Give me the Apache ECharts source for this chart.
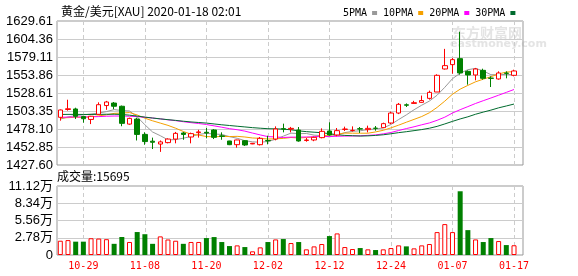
<!DOCTYPE html>
<html>
<head>
<meta charset="utf-8">
<script src="https://cdn.jsdelivr.net/npm/echarts@6/dist/echarts.min.js"></script>
<style>html,body{margin:0;padding:0;background:#fff;}#c{width:578px;height:276px;}</style>
</head>
<body>
<div id="c"></div>
<script>
var dates = ['10-24','10-25','10-28','10-29','10-30','10-31','11-01','11-04','11-05','11-06','11-07','11-08','11-11','11-12','11-13','11-14','11-15','11-18','11-19','11-20','11-21','11-22','11-25','11-26','11-27','11-28','11-29','12-02','12-03','12-04','12-05','12-06','12-09','12-10','12-11','12-12','12-13','12-16','12-17','12-18','12-19','12-20','12-23','12-24','12-26','12-27','12-30','12-31','01-02','01-03','01-06','01-07','01-08','01-09','01-10','01-13','01-14','01-15','01-16','01-17'];
var opens  = [1494.5,1505.5,1506.2,1495.5,1491.5,1498.7,1511,1514.5,1510,1485,1492,1470.5,1461,1457,1459,1464,1472.5,1466.9,1473,1473.5,1476.7,1468.5,1461.3,1456.1,1461.7,1457.2,1456.1,1462,1464,1478.5,1478,1476.7,1462,1462.7,1466,1475.3,1469.7,1477.5,1476,1478.5,1477.2,1479.3,1480,1486.5,1500.5,1512,1514,1515.5,1521.1,1530,1562.3,1568.4,1576.8,1559,1553.9,1560.4,1549.5,1548.3,1556.5,1553.4];
var closes = [1504.8,1506.5,1495.9,1492.5,1496,1512.2,1516,1510,1486,1493,1470.5,1460.5,1459.5,1460,1464,1472,1470.5,1471.6,1474,1472.5,1466.4,1467.8,1456.1,1462.7,1455.7,1458,1465,1461.5,1478.1,1478,1479,1461.3,1462.7,1466.4,1474.8,1469.7,1475.8,1478.1,1476.2,1478,1479,1479,1485.6,1500.5,1512.7,1511.5,1515,1518,1529.5,1553.4,1567,1575.4,1556.7,1553.9,1562.3,1549.2,1549.2,1556.7,1556.2,1559.5];
var lows   = [1489.8,1503.8,1492.1,1487,1485,1498,1505,1506,1482,1484,1462,1456,1450,1446,1458,1458,1463,1458,1466,1465,1464,1463,1455.5,1451.9,1454.3,1456.8,1455,1456.6,1462.2,1473.4,1473.4,1460.3,1460.3,1461,1465,1468.7,1468,1475.3,1474.4,1472.5,1473.4,1475.7,1479.5,1485,1499,1509,1513.6,1515,1519.3,1530,1561.5,1555.7,1554.3,1540.3,1546.4,1547.3,1537,1547.3,1549.2,1552];
var highs  = [1505.5,1519.2,1508,1496,1496.5,1515.5,1517.5,1516,1511,1494,1494,1473.5,1466,1462,1465,1474,1474,1473,1477,1479.5,1478,1473.4,1461.5,1463,1462.6,1458.5,1466.9,1468.7,1481.8,1485.6,1481,1480.9,1465.5,1467.3,1479,1487.5,1479.5,1481.4,1481.8,1480.9,1482.8,1482.3,1487,1502.5,1514.6,1514,1517.6,1525,1531.9,1554.8,1590.5,1577.7,1614.5,1560.4,1563.7,1562.7,1552,1559,1559,1561.3];
var ma5  = [1492,1495,1497,1498,1499.1,1500.5,1502.5,1505.3,1504,1503.4,1495.1,1484,1473.9,1468.7,1462.9,1463.2,1465.2,1467.6,1470.4,1472.1,1471,1470.5,1467.4,1465.1,1461.7,1460.1,1459.5,1460.6,1463.7,1468.1,1472.3,1471.6,1471.8,1469.5,1468.8,1467,1469.9,1473,1474.9,1475.6,1477.4,1478.1,1479.6,1484.4,1491.4,1497.9,1505.1,1511.5,1517.3,1525.5,1536.6,1548.7,1556.4,1561.3,1563.1,1559.5,1554.3,1554.3,1554.7,1554.2];
var ma10 = [1493.5,1494,1494.5,1494.5,1495,1496.5,1498,1500,1500.5,1501.2,1497.8,1493.3,1489.6,1486.4,1483.2,1479.2,1474.6,1470.8,1469.6,1467.5,1467.1,1467.8,1467.5,1467.8,1466.9,1465.5,1465,1464,1464.4,1464.9,1466.2,1465.5,1466.2,1466.6,1468.5,1469.7,1470.7,1472.4,1472.2,1472.2,1472.2,1474,1476.3,1479.7,1483.5,1487.6,1491.6,1495.6,1500.9,1508.4,1517.2,1526.9,1534,1539.3,1544.3,1548,1551.5,1555.3,1558,1558.6];
var ma20 = [1494.5,1494.8,1495,1495,1495.2,1495.5,1496,1496.3,1496.3,1496,1495.5,1494.5,1493.5,1492.3,1491,1489.8,1488.3,1487,1485.8,1484.4,1482.5,1480.6,1478.6,1477.1,1475.1,1472.4,1469.8,1467.4,1467,1466.2,1466.7,1466.7,1466.9,1467.2,1467.7,1467.6,1467.9,1468.2,1468.3,1468.6,1469.2,1469.8,1471.3,1473.2,1476,1478.7,1481.2,1484,1486.6,1490.3,1494.7,1500.5,1505.2,1509.5,1513.9,1517.8,1521.6,1525.5,1529.5,1533.5];
var ma30 = [1498.5,1498.6,1498.6,1498.5,1498.5,1498.6,1498.8,1498.8,1498.5,1497.5,1496.2,1494.8,1493.5,1492.3,1491.2,1490.2,1489,1488,1487.2,1486.4,1485.2,1484,1483,1482,1481,1480,1479.2,1478.5,1478.3,1477.9,1477,1475.5,1474.4,1473.6,1472.9,1471.5,1470.1,1469.1,1468.7,1468.2,1468.5,1469.1,1470,1471.4,1473,1474.3,1475.8,1477.3,1479.2,1481.8,1485.2,1488.8,1492.2,1495.2,1498.8,1501.8,1504.6,1507.8,1510.4,1513.1];
var volumes = [23000,24000,21500,21500,27000,26500,25500,18000,29000,21000,37000,33500,18000,30000,25000,23000,18000,21000,21000,27300,28900,20900,14400,15500,12800,5900,12300,20900,25100,25700,19300,20900,9100,13900,17700,30500,34800,12800,9600,11200,9100,8000,9100,11200,15500,13900,10700,15500,17700,36900,49800,36900,102700,40100,25100,20900,27300,22500,16000,15695];
var maNames = ['5PMA','10PMA','20PMA','30PMA'];
var priceMin = 1427.60, priceMax = 1629.61, priceStep = 25.25125;
var volMax = 111200, volStep = 27800;

var RED = '#ff0000', GREEN = '#008000';
var maColors = ['#999999','#f5a000','#ff00ff','#006b2e'];

var candleData = dates.map(function(d,i){ return [opens[i], closes[i], lows[i], highs[i]]; });
var volData = volumes.map(function(v,i){
  var up = closes[i] >= opens[i];
  return {value: v, itemStyle: up ? {color:'#ffffff', borderColor: RED, borderWidth:1} : {color: GREEN, borderColor: GREEN, borderWidth:0}};
});
var labelIdx = function(i){ return (i - 3) % 8 === 0; };

var chart = echarts.init(document.getElementById('c'), null, {renderer:'canvas'});
var L = 57, R = 523, DL = 60.3, DR = 514;
var maSeries = [ma5, ma10, ma20, ma30].map(function(arr, k){
  return {name: maNames[k], type:'line', xAxisIndex:1, yAxisIndex:1, data: arr, showSymbol:false, symbol:'none',
    lineStyle:{width:1, color: maColors[k]}, itemStyle:{color: maColors[k]}, z:2, silent:true};
});
chart.setOption({
  animation:false,
  backgroundColor:'#fff',
  title:{text:'黄金/美元[XAU] 2020-01-18 02:01', left:56, top:0,
    textStyle:{fontSize:12, fontWeight:'normal', fontFamily:'Noto Sans CJK SC', color:'#000'}},
  legend:{data: maNames, left:338, top:3, icon:'rect', itemWidth:5, itemHeight:4, align:'right', itemGap:6,
    textStyle:{fontFamily:'DejaVu Sans Mono', fontSize:10, color:'#000'}},
  grid:[
    {left:L, top:21, width:R-L, height:144, show:true, borderColor:'#999', borderWidth:1, backgroundColor:'transparent'},
    {left:DL, top:21, width:DR-DL, height:144},
    {left:L, top:186, width:R-L, height:69, show:true, borderColor:'#999', borderWidth:1, backgroundColor:'transparent'},
    {left:DL, top:186, width:DR-DL, height:69}
  ],
  xAxis:[
    {gridIndex:0, type:'value', min:0, max:1, show:false},
    {gridIndex:1, type:'category', data:dates, boundaryGap:false, axisLine:{show:false}, axisTick:{show:false}, axisLabel:{show:false},
      splitLine:{show:true, interval: function(i){return labelIdx(i);}, lineStyle:{color:'#cccccc', type:[4,3], width:1}}},
    {gridIndex:2, type:'value', min:0, max:1, show:false},
    {gridIndex:3, type:'category', data:dates, boundaryGap:false, axisLine:{show:false}, axisTick:{show:false},
      axisLabel:{show:true, interval: function(i){return labelIdx(i);}, color:RED, fontFamily:'DejaVu Sans Mono', fontSize:10, margin:6},
      splitLine:{show:true, interval: function(i){return labelIdx(i);}, lineStyle:{color:'#cccccc', type:[4,3], width:1}}}
  ],
  yAxis:[
    {gridIndex:0, type:'value', min:priceMin, max:priceMax, interval:priceStep, axisLine:{show:false}, axisTick:{show:false},
      axisLabel:{formatter:function(v){return v.toFixed(2);}, fontFamily:'Liberation Sans', fontSize:13, color:'#000', margin:4},
      splitLine:{lineStyle:{color:'#cccccc', width:1}}},
    {gridIndex:1, type:'value', min:priceMin, max:priceMax, show:false},
    {gridIndex:2, type:'value', min:0, max:volMax, interval:volStep, axisLine:{show:false}, axisTick:{show:false},
      axisLabel:{formatter:function(v){return v===0?'0':(v/10000).toFixed(2)+'万';}, fontFamily:'Liberation Sans, Noto Sans CJK SC', fontSize:13, color:'#000', margin:4},
      splitLine:{lineStyle:{color:'#cccccc', width:1}}},
    {gridIndex:3, type:'value', min:0, max:volMax, show:false}
  ],
  graphic:[
    {type:'text', left:57, top:170, style:{text:'成交量:' + volumes[volumes.length-1], font:'12px "Noto Sans CJK SC"', fill:'#000'}},
    {type:'text', left:452, top:26, z:-1, style:{text:'东方财富网', font:'bold 14px "Noto Sans CJK SC"', fill:'#e4e4e4'}},
    {type:'text', left:450, top:39, z:-1, style:{text:'eastmoney.com', font:'bold 11px "DejaVu Sans"', fill:'#e4e4e4'}}
  ],
  series: maSeries.concat([
    {name:'K', type:'candlestick', xAxisIndex:1, yAxisIndex:1, data:candleData, barWidth:5, clip:false, z:3,
      itemStyle:{color:'#ffffff', color0:GREEN, borderColor:RED, borderColor0:GREEN, borderWidth:1}},
    {name:'VOL', type:'bar', xAxisIndex:3, yAxisIndex:3, data:volData, barWidth:5}
  ])
});
</script>
</body>
</html>
